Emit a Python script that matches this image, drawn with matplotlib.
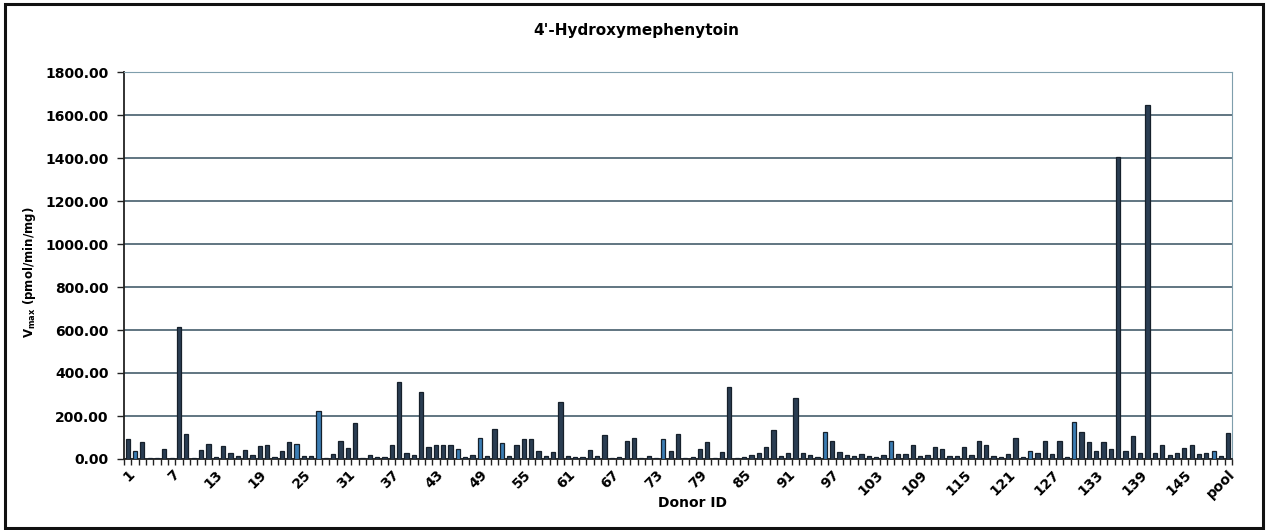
import numpy as np
import matplotlib
matplotlib.use('Agg')
import matplotlib.pyplot as plt
from matplotlib.patches import Rectangle

# Data ----------------------------------------------------------------
donors = [str(i) for i in range(1, 151)] + ['pool']

vmax = [92, 36, 79, 6, 4, 48, 4, 612, 114, 6,
        44, 68, 8, 61, 29, 14, 41, 18, 59, 64,
        10, 38, 78, 70, 12, 13, 225, 6, 23, 83,
        49, 169, 5, 18, 9, 11, 66, 360, 26, 17,
        312, 58, 66, 66, 66, 46, 8, 17, 100, 12,
        138, 74, 15, 66, 95, 95, 35, 15, 31, 265,
        15, 8, 7, 43, 12, 111, 6, 10, 85, 100,
        4, 12, 6, 92, 35, 118, 6, 8, 48, 77,
        6, 32, 334, 5, 8, 17, 26, 57, 135, 14,
        29, 283, 28, 20, 11, 126, 85, 34, 20, 14,
        25, 15, 11, 20, 82, 22, 23, 66, 14, 17,
        58, 46, 15, 14, 58, 20, 85, 66, 12, 8,
        22, 97, 10, 38, 30, 83, 24, 86, 11, 173,
        127, 77, 36, 79, 48, 1405, 36, 109, 26, 1645,
        27, 67, 18, 27, 50, 67, 23, 26, 35, 15,
        121]

# donors whose bars print in the lighter blue
light_donors = ['2', '24', '27', '46', '49', '52', '74', '96', '105', '124', '130', '149']

yticks = np.arange(0, 1801, 200)

# Plot -----------------------------------------------------------------
fig = plt.figure(figsize=(12.71, 5.30), dpi=100)
fig.patch.set_facecolor('white')
fig.patches.append(Rectangle((5 / 1271, 2 / 530), 1258 / 1271, 524 / 530,
                             transform=fig.transFigure, fill=False,
                             edgecolor='#111111', linewidth=2.2))

ax = fig.add_axes([124 / 1271, 1 - 459 / 530, 1108 / 1271, 387 / 530])

x = np.arange(len(donors))
colors = ['#3b7db4' if d in light_donors else '#2a3d52' for d in donors]
ax.bar(x, vmax, width=0.58, color=colors, edgecolor='#16202b', linewidth=0.9, zorder=3)

ax.set_xlim(-0.5, len(donors) - 0.5)
ax.set_ylim(0, 1800)
ax.set_yticks(yticks)
ax.set_yticklabels([f'{v:.2f}' for v in yticks], fontsize=10, fontweight='bold')
ax.yaxis.grid(True, color='#35505f', linewidth=1.1, zorder=0)
ax.tick_params(axis='y', length=5, width=1, color='#222222', pad=6)

ax.set_xticks(x[::6])
ax.set_xticklabels(donors[::6], rotation=45, ha='right', rotation_mode='anchor',
                   fontsize=10, fontweight='bold')
ax.set_xticks(np.arange(-0.5, len(donors), 1), minor=True)
ax.tick_params(axis='x', which='major', length=0, pad=6)
ax.tick_params(axis='x', which='minor', length=4, width=1, color='#222222')

for side in ['left', 'bottom']:
    ax.spines[side].set_color('#222222')
    ax.spines[side].set_linewidth(1.3)
for side in ['top', 'right']:
    ax.spines[side].set_color('#7f9eac')
    ax.spines[side].set_linewidth(0.8)

fig.text(636 / 1271, 1 - 30 / 530, "4'-Hydroxymephenytoin", ha='center', va='center',
         fontsize=11, fontweight='bold')
fig.text(692 / 1271, 1 - 503 / 530, 'Donor ID', ha='center', va='center',
         fontsize=10, fontweight='bold')
fig.text(30 / 1271, 1 - 272 / 530, r'V$_{\mathbf{max}}$ (pmol/min/mg)', ha='center', va='center',
         rotation=90, fontsize=8.5, fontweight='bold')

plt.savefig('out.png', dpi=100)
